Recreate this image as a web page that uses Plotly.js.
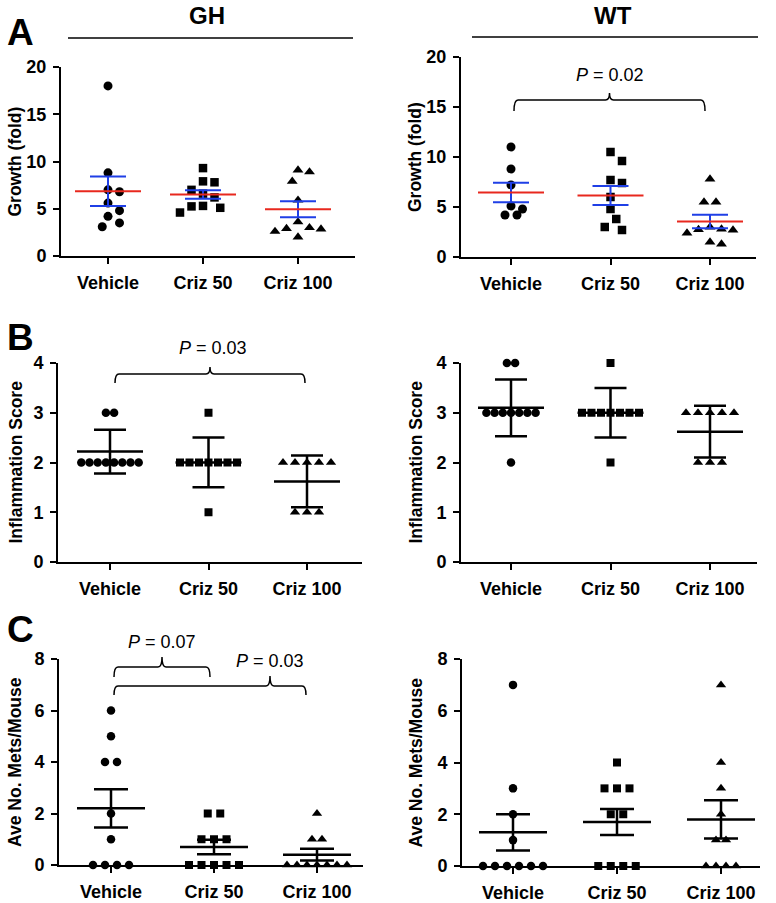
<!DOCTYPE html>
<html>
<head>
<meta charset="utf-8">
<script src="https://cdn.plot.ly/plotly-3.0.1.min.js"></script>
<style>html,body{margin:0;padding:0;background:#fff;}#chart{width:776px;height:903px;}</style>
</head>
<body>
<div id="chart"></div>
<script>
// ---------------- DATA ----------------
const categories = ['Vehicle', 'Criz 50', 'Criz 100'];

// Panel A: Growth (fold)
const ghGrowthVehicle = [18, 8.8, 7.0, 6.8, 5.6, 4.8, 4.2, 3.5, 3.1];
const ghGrowthCriz50  = [9.3, 7.9, 7.8, 7.0, 6.6, 6.2, 5.3, 5.1, 5.25, 4.6];
const ghGrowthCriz100 = [9.1, 8.9, 7.9, 5.9, 3.6, 3.0, 2.9, 2.85, 2.6, 2.0];
const ghGrowthMean = [6.85, 6.5, 4.95];
const ghGrowthSem  = [1.55, 0.45, 0.85];

const wtGrowthVehicle = [11.0, 8.8, 7.2, 5.1, 4.8, 4.2, 4.2];
const wtGrowthCriz50  = [10.5, 9.6, 7.7, 7.4, 6.0, 4.8, 3.8, 3.0, 2.7];
const wtGrowthCriz100 = [7.8, 5.5, 5.5, 3.0, 2.8, 2.75, 2.7, 2.4, 1.5, 1.3];
const wtGrowthMean = [6.45, 6.15, 3.55];
const wtGrowthSem  = [0.98, 0.95, 0.67];

// Panel B: Inflammation Score
const ghInflVehicle = [3, 3, 2, 2, 2, 2, 2, 2, 2, 2];
const ghInflCriz50  = [3, 2, 2, 2, 2, 2, 2, 2, 1];
const ghInflCriz100 = [2, 2, 2, 2, 2, 1, 1, 1];
const ghInflMean = [2.22, 2.0, 1.62];
const ghInflSd   = [0.44, 0.5, 0.52];

const wtInflVehicle = [4, 4, 3, 3, 3, 3, 3, 3, 3, 2];
const wtInflCriz50  = [4, 3, 3, 3, 3, 3, 3, 3, 2];
const wtInflCriz100 = [3, 3, 3, 3, 3, 2, 2, 2];
const wtInflMean = [3.1, 3.0, 2.62];
const wtInflSd   = [0.57, 0.5, 0.52];

// Panel C: Ave No. Mets/Mouse
const ghMetsVehicle = [6, 5, 4, 4, 2, 1, 0, 0, 0, 0];
const ghMetsCriz50  = [2, 2, 1, 1, 1, 0, 0, 0, 0, 0];
const ghMetsCriz100 = [2, 1, 1, 0, 0, 0, 0, 0, 0, 0];
const ghMetsMean = [2.2, 0.7, 0.4];
const ghMetsSem  = [0.74, 0.28, 0.23];

const wtMetsVehicle = [7, 3, 2, 1, 0, 0, 0, 0, 0, 0];
const wtMetsCriz50  = [4, 3, 3, 3, 2, 2, 0, 0, 0, 0];
const wtMetsCriz100 = [7, 4, 3, 2, 1, 1, 0, 0, 0, 0];
const wtMetsMean = [1.3, 1.7, 1.8];
const wtMetsSem  = [0.7, 0.5, 0.74];

// ---------------- LAYOUT HELPERS ----------------
const W = 776, H = 903;
const FONT = 'Liberation Sans, Arial, Helvetica, sans-serif';
const px = x => x / W;
const py = y => 1 - y / H;
const symbols = ['circle', 'square', 'triangle-up'];
const BLUE = '#1f3fe6', RED = '#e8281e';

const panels = [
  {x0:61, x1:355, c0:108, sp:95,  ybot:256, ytop:67,  ymax:20, dtick:5, groups:[ghGrowthVehicle, ghGrowthCriz50, ghGrowthCriz100], mean:ghGrowthMean, err:ghGrowthSem, kind:'A', title:'Growth (fold)', tx:15},
  {x0:461, x1:756, c0:511, sp:99.5, ybot:257, ytop:57, ymax:20, dtick:5, groups:[wtGrowthVehicle, wtGrowthCriz50, wtGrowthCriz100], mean:wtGrowthMean, err:wtGrowthSem, kind:'A', title:'Growth (fold)', tx:415},
  {x0:58, x1:362, c0:110, sp:98.5, ybot:562, ytop:363, ymax:4, dtick:1, groups:[ghInflVehicle, ghInflCriz50, ghInflCriz100], mean:ghInflMean, err:ghInflSd, kind:'B', title:'Inflammation Score', tx:15},
  {x0:461, x1:757, c0:511, sp:99.5, ybot:562, ytop:363, ymax:4, dtick:1, groups:[wtInflVehicle, wtInflCriz50, wtInflCriz100], mean:wtInflMean, err:wtInflSd, kind:'B', title:'Inflammation Score', tx:415},
  {x0:59, x1:363, c0:111, sp:103, ybot:865, ytop:659, ymax:8, dtick:2, groups:[ghMetsVehicle, ghMetsCriz50, ghMetsCriz100], mean:ghMetsMean, err:ghMetsSem, kind:'C', title:'Ave No. Mets/Mouse', tx:15},
  {x0:462, x1:760, c0:513, sp:104, ybot:866, ytop:659, ymax:8, dtick:2, groups:[wtMetsVehicle, wtMetsCriz50, wtMetsCriz100], mean:wtMetsMean, err:wtMetsSem, kind:'C', title:'Ave No. Mets/Mouse', tx:415}
];

const rowStep = {A:[12,12,12], B:[8.2,9.5,12], C:[12,12.5,10]};
const markerSize = {A:[9,8.5,9.5], B:[8.5,8,9], C:[8.5,8,9]};
const collide = {A:11.5, B:9, C:9};
const capHalf = {A:18, B:16, C:17};
const meanHalf = {A:33, B:33, C:34};

// swarm-like horizontal offsets (pixels) so points do not overlap
function swarmOffsets(vals, pxPerUnit, D, step) {
  const idx = vals.map((v, i) => i).sort((a, b) => vals[b] - vals[a]);
  const off = new Array(vals.length).fill(0);
  const placed = [];
  let i = 0;
  while (i < idx.length) {
    let j = i;
    while (j + 1 < idx.length && vals[idx[j + 1]] === vals[idx[i]]) j++;
    const k = j - i + 1;
    if (k > 1) {
      for (let t = 0; t < k; t++) {
        off[idx[i + t]] = (t - (k - 1) / 2) * step;
        placed.push({x: off[idx[i + t]], y: vals[idx[i + t]] * pxPerUnit});
      }
    } else {
      const y = vals[idx[i]] * pxPerUnit;
      const s = D / 2;
      let chosen = 0;
      for (let n = 0; n < 40; n++) {
        const cand = n === 0 ? 0 : (n % 2 ? 1 : -1) * Math.ceil(n / 2) * s;
        if (placed.every(p => Math.hypot(p.x - cand, p.y - y) >= D)) { chosen = cand; break; }
      }
      off[idx[i]] = chosen;
      placed.push({x: chosen, y: y});
    }
    i = j + 1;
  }
  return off;
}

const traces = [];
const layout = {
  width: W, height: H,
  margin: {l:0, r:0, t:0, b:0},
  paper_bgcolor: '#fff', plot_bgcolor: 'rgba(0,0,0,0)',
  showlegend: false,
  font: {family: FONT, color: '#000'},
  shapes: [], annotations: []
};

panels.forEach((p, pi) => {
  const n = pi + 1;
  const xa = 'x' + (n > 1 ? n : ''), ya = 'y' + (n > 1 ? n : '');
  const xk = 'xaxis' + (n > 1 ? n : ''), yk = 'yaxis' + (n > 1 ? n : '');
  const pxPerUnit = (p.ybot - p.ytop) / p.ymax;
  const lw = p.kind === 'A' ? 2 : 2.5;

  layout[xk] = {
    domain: [px(p.x0), px(p.x1)],
    range: [(p.x0 - p.c0) / p.sp, (p.x1 - p.c0) / p.sp],
    anchor: ya, tickvals: [0, 1, 2], ticktext: categories,
    showline: true, linecolor: '#000', linewidth: 2,
    ticks: 'outside', ticklen: 6, tickwidth: 2, tickcolor: '#000',
    showgrid: false, zeroline: false, fixedrange: true,
    tickfont: {family: FONT, size: 18, color: '#000', weight: 'bold'},
    ticklabelstandoff: 3
  };
  layout[yk] = {
    domain: [py(p.ybot), py(p.ytop)],
    range: [0, p.ymax], tick0: 0, dtick: p.dtick,
    anchor: xa,
    showline: true, linecolor: '#000', linewidth: 2,
    ticks: 'outside', ticklen: 6, tickwidth: 2, tickcolor: '#000',
    showgrid: false, zeroline: false, fixedrange: true,
    tickfont: {family: FONT, size: 18, color: '#000', weight: 'bold'},
    ticklabelstandoff: 3
  };

  // points
  p.groups.forEach((vals, j) => {
    const off = swarmOffsets(vals, pxPerUnit, collide[p.kind], rowStep[p.kind][j]);
    traces.push({
      type: 'scatter', mode: 'markers', xaxis: xa, yaxis: ya,
      x: vals.map((v, k) => j + off[k] / p.sp), y: vals,
      marker: {symbol: symbols[j], size: markerSize[p.kind][j], color: '#000', line: {width: 0}},
      cliponaxis: false, hoverinfo: 'skip'
    });
  });

  // mean lines
  const mx = [], my = [];
  p.mean.forEach((m, j) => {
    const hw = meanHalf[p.kind] / p.sp;
    mx.push(j - hw, j + hw, null); my.push(m, m, null);
  });
  // error bars
  traces.push({
    type: 'scatter', mode: 'markers', xaxis: xa, yaxis: ya,
    x: [0, 1, 2], y: p.mean,
    marker: {size: 1, opacity: 0},
    error_y: {type: 'data', array: p.err, visible: true,
      color: p.kind === 'A' ? BLUE : '#000', thickness: lw, width: capHalf[p.kind]},
    cliponaxis: false, hoverinfo: 'skip'
  });
  traces.push({
    type: 'scatter', mode: 'lines', xaxis: xa, yaxis: ya,
    x: mx, y: my, line: {color: p.kind === 'A' ? RED : '#000', width: lw},
    cliponaxis: false, hoverinfo: 'skip'
  });

  // y-axis title
  layout.annotations.push({
    xref: 'paper', yref: 'paper', x: px(p.tx), y: py((p.ybot + p.ytop) / 2),
    text: p.title, textangle: -90, showarrow: false,
    xanchor: 'center', yanchor: 'middle',
    font: {family: FONT, size: 17.5, color: '#000', weight: 'bold'}
  });
});

// category centre in pixels
const cx = (pi, j) => panels[pi].c0 + panels[pi].sp * j;

// header titles + lines
layout.annotations.push(
  {xref:'paper', yref:'paper', x:px(207), y:py(16), text:'GH', showarrow:false, xanchor:'center', yanchor:'middle', font:{family:FONT, size:24, weight:'bold', color:'#000'}},
  {xref:'paper', yref:'paper', x:px(613), y:py(16), text:'WT', showarrow:false, xanchor:'center', yanchor:'middle', font:{family:FONT, size:24, weight:'bold', color:'#000'}},
  {xref:'paper', yref:'paper', x:px(20), y:py(32), text:'A', showarrow:false, xanchor:'center', yanchor:'middle', font:{family:FONT, size:37, weight:'bold', color:'#000'}},
  {xref:'paper', yref:'paper', x:px(20), y:py(338), text:'B', showarrow:false, xanchor:'center', yanchor:'middle', font:{family:FONT, size:37, weight:'bold', color:'#000'}},
  {xref:'paper', yref:'paper', x:px(20), y:py(629), text:'C', showarrow:false, xanchor:'center', yanchor:'middle', font:{family:FONT, size:37, weight:'bold', color:'#000'}},
  {xref:'paper', yref:'paper', x:px(610), y:py(75), text:'<i>P</i> = 0.02', showarrow:false, xanchor:'center', yanchor:'middle', font:{family:FONT, size:18, color:'#000'}},
  {xref:'paper', yref:'paper', x:px(213), y:py(348), text:'<i>P</i> = 0.03', showarrow:false, xanchor:'center', yanchor:'middle', font:{family:FONT, size:18, color:'#000'}},
  {xref:'paper', yref:'paper', x:px(162), y:py(642), text:'<i>P</i> = 0.07', showarrow:false, xanchor:'center', yanchor:'middle', font:{family:FONT, size:18, color:'#000'}},
  {xref:'paper', yref:'paper', x:px(270), y:py(661), text:'<i>P</i> = 0.03', showarrow:false, xanchor:'center', yanchor:'middle', font:{family:FONT, size:18, color:'#000'}}
);

layout.shapes.push(
  {type:'line', xref:'paper', yref:'paper', x0:px(68), x1:px(353), y0:py(38), y1:py(38), line:{color:'#000', width:1.6}},
  {type:'line', xref:'paper', yref:'paper', x0:px(472), x1:px(758), y0:py(37), y1:py(37), line:{color:'#000', width:1.6}}
);

function bracket(xa, xb, yH, yEnd, yNub, xNub) {
  const r = 4, xm = (xNub === undefined) ? (xa + xb) / 2 : xNub;
  const P = (x, y) => px(x) + ',' + py(y);
  const path = 'M' + P(xa, yEnd) + ' Q' + P(xa, yH) + ' ' + P(xa + r, yH) +
    ' L' + P(xm - r, yH) + ' Q' + P(xm, yH) + ' ' + P(xm, yNub) +
    ' Q' + P(xm, yH) + ' ' + P(xm + r, yH) +
    ' L' + P(xb - r, yH) + ' Q' + P(xb, yH) + ' ' + P(xb, yEnd);
  return {type:'path', xref:'paper', yref:'paper', path: path, line:{color:'#000', width:1.5}};
}
layout.shapes.push(
  bracket(cx(1, 0) + 3, cx(1, 2) - 5, 100, 111, 93),
  bracket(cx(2, 0) + 5, cx(2, 2) - 2, 374, 383, 367),
  bracket(cx(4, 0) + 3, cx(4, 1) - 4, 667, 677, 657),
  bracket(cx(4, 0) + 3, cx(4, 2) - 11, 686, 695, 676, 270)
);

Plotly.newPlot('chart', traces, layout, {displayModeBar: false, staticPlot: true});
</script>
</body>
</html>
